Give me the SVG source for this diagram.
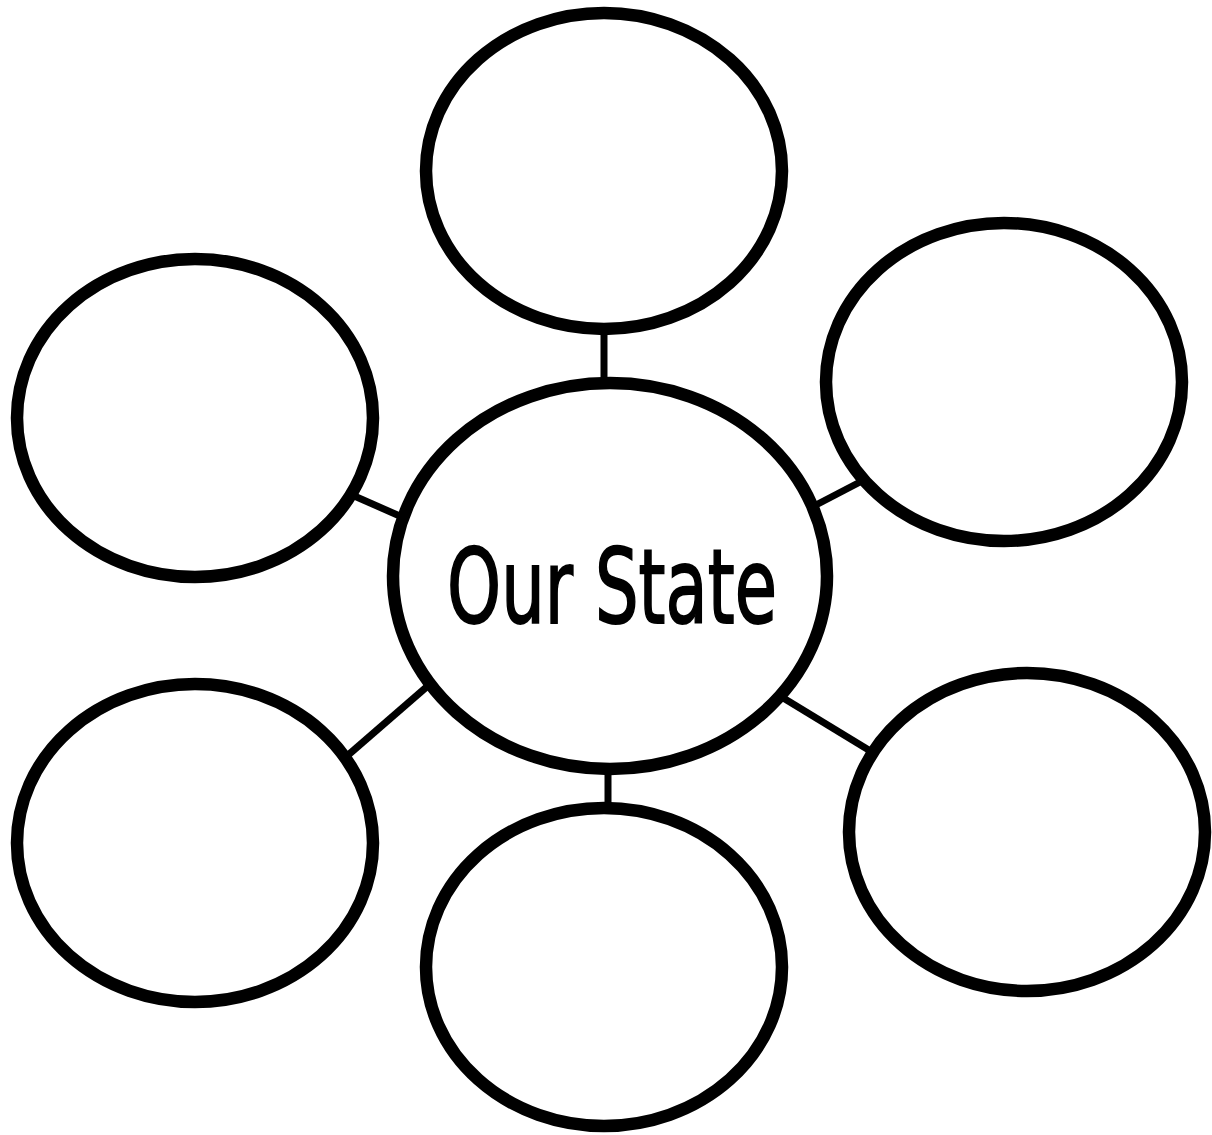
<svg xmlns="http://www.w3.org/2000/svg" width="1212" height="1135" viewBox="0 0 1212 1135">
<style>
.bubble{fill:#fff;stroke:#000;stroke-width:12.5}
.link{stroke:#000;stroke-width:7;fill:none}
.label{font-family:"DejaVu Sans","Liberation Sans",sans-serif;font-size:104px;fill:#000;stroke:#000;stroke-width:2}
</style>
<rect width="1212" height="1135" fill="#fff"/>
<g id="connectors">
<line class="link" x1="604" y1="329" x2="604" y2="381"/>
<line class="link" x1="814" y1="506" x2="862" y2="481"/>
<line class="link" x1="352" y1="495" x2="402" y2="517"/>
<line class="link" x1="347" y1="756" x2="430" y2="684"/>
<line class="link" x1="608" y1="770" x2="608" y2="806"/>
<line class="link" x1="780" y1="696" x2="872" y2="752"/>
</g>
<g id="node-center">
<ellipse class="bubble" cx="610" cy="576" rx="217" ry="193"/>
<text class="label" x="612" y="623" text-anchor="middle" textLength="330" lengthAdjust="spacingAndGlyphs">Our State</text>
</g>
<g id="node-top"><ellipse class="bubble" cx="604" cy="171" rx="178" ry="158"/></g>
<g id="node-top-right"><ellipse class="bubble" cx="1004" cy="382" rx="178" ry="159"/></g>
<g id="node-left-upper"><ellipse class="bubble" cx="195" cy="418" rx="178" ry="159"/></g>
<g id="node-left-lower"><ellipse class="bubble" cx="195" cy="843" rx="178" ry="159"/></g>
<g id="node-bottom"><ellipse class="bubble" cx="604" cy="967" rx="178" ry="159"/></g>
<g id="node-right-lower"><ellipse class="bubble" cx="1027" cy="832" rx="178" ry="159"/></g>
</svg>
